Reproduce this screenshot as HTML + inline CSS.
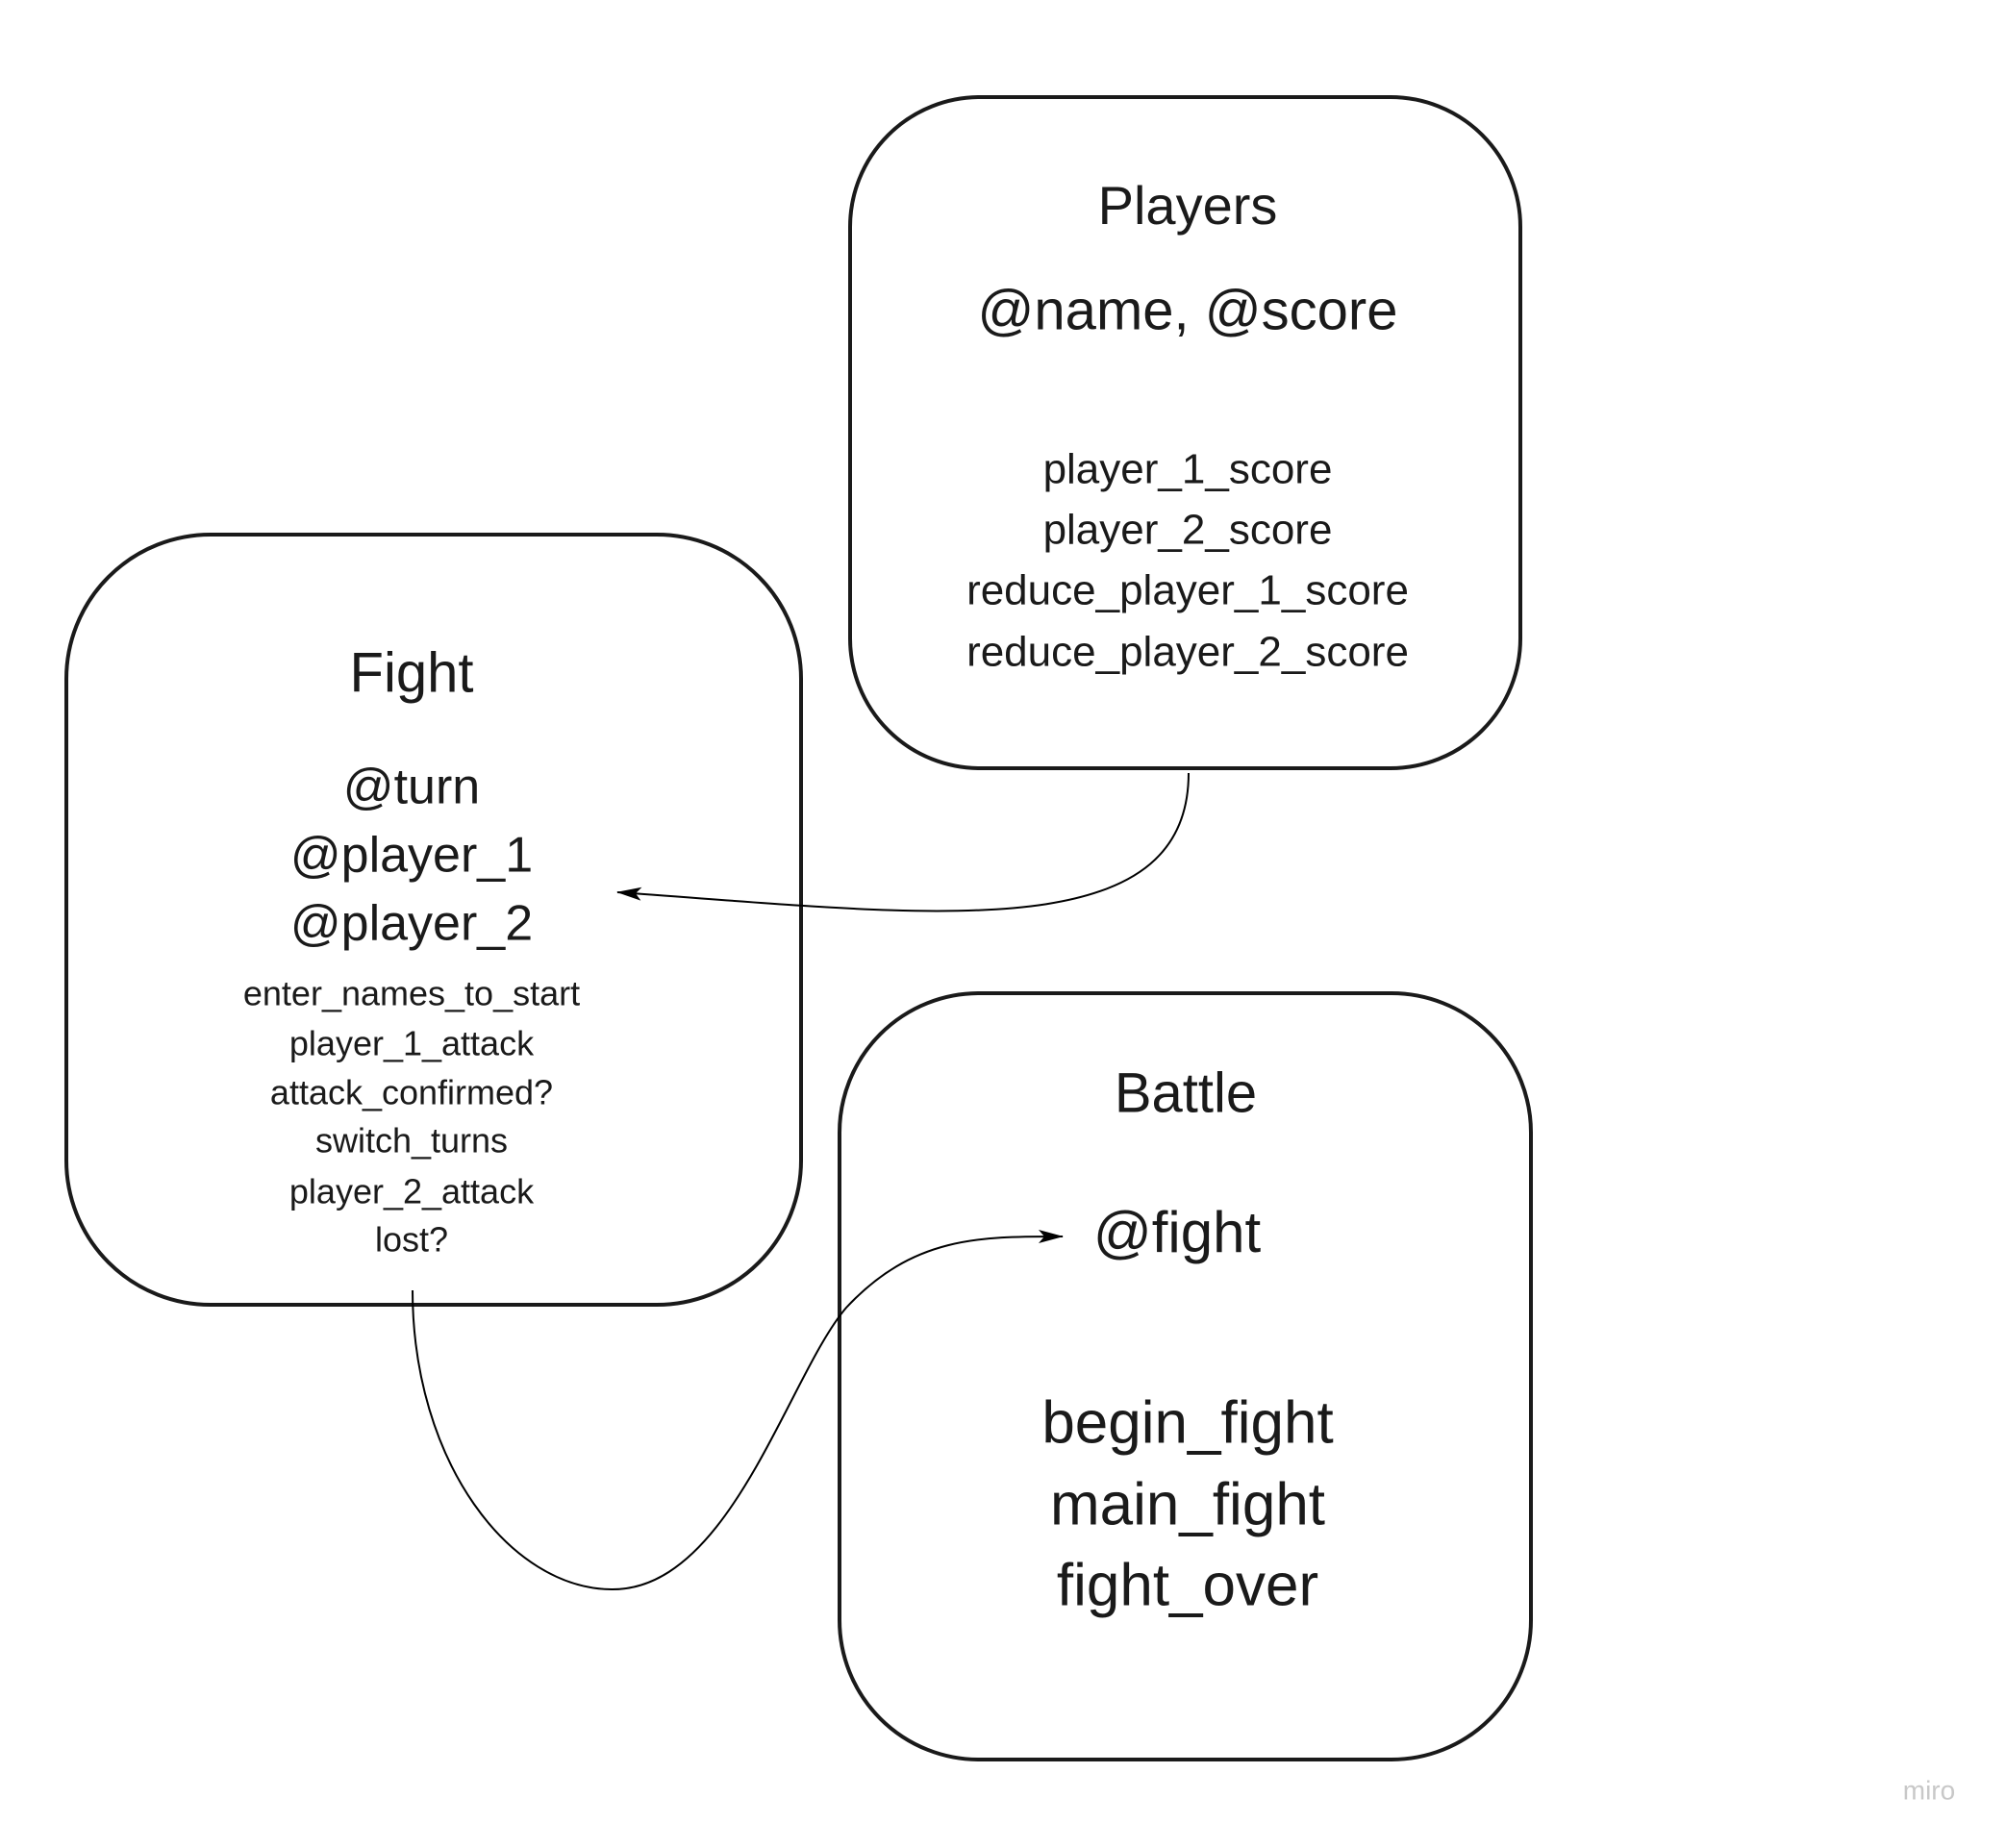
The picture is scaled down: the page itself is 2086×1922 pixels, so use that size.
<!DOCTYPE html>
<html><head><meta charset="utf-8"><style>
body{margin:0;background:#fff}
svg text{font-family:"Liberation Sans","DejaVu Sans",sans-serif;fill:#1a1a1a;text-anchor:middle;dominant-baseline:middle}
</style></head><body>
<svg width="2086" height="1917" viewBox="0 0 2086 1917" xmlns="http://www.w3.org/2000/svg">
<defs><marker id="a" markerWidth="26" markerHeight="14" refX="25" refY="7" orient="auto" markerUnits="userSpaceOnUse"><path d="M0,0 L26,7 L0,14 L6,7 Z" fill="#000"/></marker></defs>
<g fill="none" stroke="#1a1a1a" stroke-width="4">
<rect x="884" y="101" width="697" height="698" rx="135"/>
<rect x="69" y="556" width="764" height="801" rx="150"/>
<rect x="873" y="1033" width="719" height="797" rx="145"/>
</g>
<g fill="none" stroke="#000" stroke-width="2">
<path d="M1236,804 C1236,990 960,950 642,928" marker-end="url(#a)"/>
<path d="M429,1342 C429,1520 530,1653 637,1653 C760,1653 820,1430 880,1360 C950,1285 1020,1286 1105,1286" marker-end="url(#a)"/>
</g>
<text x="1235" y="218" font-size="56">Players</text>
<text x="1235" y="327" font-size="58">@name, @score</text>
<text x="1235" y="491" font-size="44">player_1_score</text>
<text x="1235" y="554" font-size="44">player_2_score</text>
<text x="1235" y="617" font-size="44">reduce_player_1_score</text>
<text x="1235" y="681" font-size="44">reduce_player_2_score</text>
<text x="428" y="704" font-size="58">Fight</text>
<text x="428" y="822" font-size="52">@turn</text>
<text x="428" y="893" font-size="52">@player_1</text>
<text x="428" y="964" font-size="52">@player_2</text>
<text x="428" y="1036" font-size="36">enter_names_to_start</text>
<text x="428" y="1088" font-size="36">player_1_attack</text>
<text x="428" y="1139" font-size="36">attack_confirmed?</text>
<text x="428" y="1189" font-size="36">switch_turns</text>
<text x="428" y="1242" font-size="36">player_2_attack</text>
<text x="428" y="1292" font-size="36">lost?</text>
<text x="1233" y="1141" font-size="58">Battle</text>
<text x="1224" y="1286" font-size="60">@fight</text>
<text x="1235" y="1484" font-size="62">begin_fight</text>
<text x="1235" y="1569" font-size="62">main_fight</text>
<text x="1235" y="1653" font-size="62">fight_over</text>
<text x="2006" y="1864" font-size="28" style="fill:#c8c8c8">miro</text>
</svg>
</body></html>
